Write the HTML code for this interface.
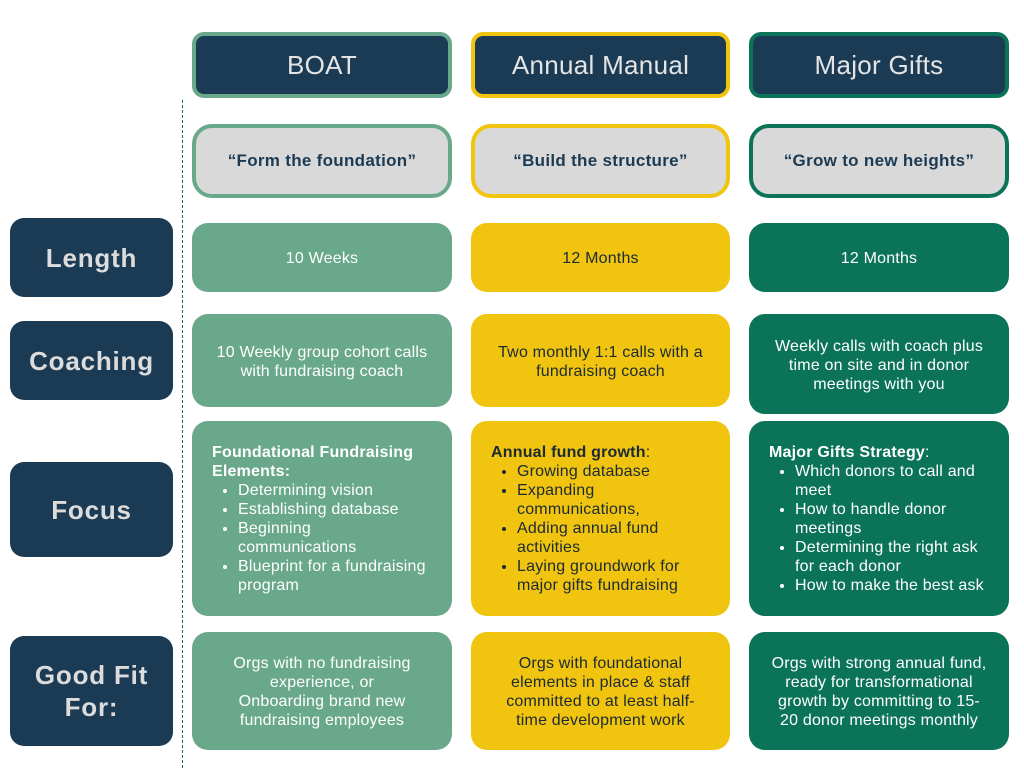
<!DOCTYPE html>
<html><head><meta charset="utf-8"><style>
body{margin:0;width:1024px;height:768px;background:#fff;position:relative;overflow:hidden;font-family:"Liberation Sans",sans-serif}
.b{position:absolute;box-sizing:border-box;display:flex;align-items:center;justify-content:center;text-align:center;border-radius:16px}
.h{background:#1b3a53;color:#e4e4e4;font-size:26px;letter-spacing:0.3px;border:4px solid;border-radius:12px}
.q{background:#d9d9d9;color:#1b3a53;font-weight:bold;font-size:17px;letter-spacing:0.3px;border:4px solid;border-radius:20px}
.l{background:#1b3a53;color:#dcdcdc;font-weight:bold;font-size:26px;letter-spacing:0.8px;left:10px;width:163px;border-radius:14px;line-height:32px}
.c{font-size:16px;letter-spacing:0.2px;line-height:19px;padding:2px 6px 0;white-space:nowrap}
.g{background:#6aa88c;color:#fff}.y{background:#f1c40f;color:#1b2a33}.d{background:#0b7358;color:#fff}
.f{align-items:flex-start;justify-content:flex-start;text-align:left;padding:22px 6px 0 20px}
.f ul{margin:0;padding-left:26px}
</style></head><body>
<div style="position:absolute;left:182px;top:100px;height:668px;border-left:1.5px dashed #0b7358"></div>
<div class="b h" style="left:192px;top:32px;width:260px;height:66px;border-color:#6aa88c">BOAT</div>
<div class="b h" style="left:471px;top:32px;width:259px;height:66px;border-color:#f1c40f">Annual Manual</div>
<div class="b h" style="left:749px;top:32px;width:260px;height:66px;border-color:#0b7358">Major Gifts</div>
<div class="b q" style="left:192px;top:124px;width:260px;height:74px;border-color:#6aa88c">“Form the foundation”</div>
<div class="b q" style="left:471px;top:124px;width:259px;height:74px;border-color:#f1c40f">“Build the structure”</div>
<div class="b q" style="left:749px;top:124px;width:260px;height:74px;border-color:#0b7358">“Grow to new heights”</div>
<div class="b l" style="top:218px;height:79px">Length</div>
<div class="b l" style="top:321px;height:79px">Coaching</div>
<div class="b l" style="top:462px;height:95px">Focus</div>
<div class="b l" style="top:636px;height:110px">Good Fit<br>For:</div>
<div class="b c g" style="left:192px;top:223px;width:260px;height:69px">10 Weeks</div>
<div class="b c y" style="left:471px;top:223px;width:259px;height:69px">12 Months</div>
<div class="b c d" style="left:749px;top:223px;width:260px;height:69px">12 Months</div>
<div class="b c g" style="left:192px;top:314px;width:260px;height:93px">10 Weekly group cohort calls<br>with fundraising coach</div>
<div class="b c y" style="left:471px;top:314px;width:259px;height:93px">Two monthly 1:1 calls with a<br>fundraising coach</div>
<div class="b c d" style="left:749px;top:314px;width:260px;height:100px">Weekly calls with coach plus<br>time on site and in donor<br>meetings with you</div>
<div class="b c g f" style="left:192px;top:421px;width:260px;height:195px"><div><b>Foundational Fundraising<br>Elements:</b><ul><li>Determining vision</li><li>Establishing database</li><li>Beginning<br>communications</li><li>Blueprint for a fundraising<br>program</li></ul></div></div>
<div class="b c y f" style="left:471px;top:421px;width:259px;height:195px"><div><b>Annual fund growth</b>:<ul><li>Growing database</li><li>Expanding<br>communications,</li><li>Adding annual fund<br>activities</li><li>Laying groundwork for<br>major gifts fundraising</li></ul></div></div>
<div class="b c d f" style="left:749px;top:421px;width:260px;height:195px"><div><b>Major Gifts Strategy</b>:<ul><li>Which donors to call and<br>meet</li><li>How to handle donor<br>meetings</li><li>Determining the right ask<br>for each donor</li><li>How to make the best ask</li></ul></div></div>
<div class="b c g" style="left:192px;top:632px;width:260px;height:118px">Orgs with no fundraising<br>experience, or<br>Onboarding brand new<br>fundraising employees</div>
<div class="b c y" style="left:471px;top:632px;width:259px;height:118px">Orgs with foundational<br>elements in place &amp; staff<br>committed to at least half-<br>time development work</div>
<div class="b c d" style="left:749px;top:632px;width:260px;height:118px">Orgs with strong annual fund,<br>ready for transformational<br>growth by committing to 15-<br>20 donor meetings monthly</div>
</body></html>
